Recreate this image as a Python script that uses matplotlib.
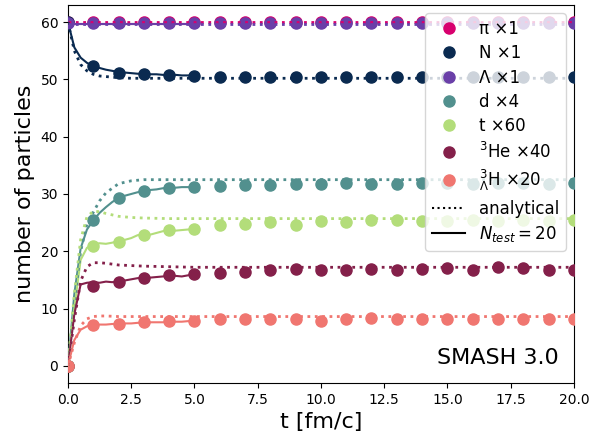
import matplotlib
matplotlib.use("Agg")
import matplotlib.pyplot as plt
from matplotlib.lines import Line2D
import numpy as np

# species, scale factors, colours
names = ["π ×1", "N ×1", "Λ ×1", "d ×4", "t ×60", "$^3$He ×40", "$^3_\\Lambda$H ×20"]
colors = ["#d8006e", "#0a2a50", "#6a3fa8", "#52908e", "#b3dd7a", "#84204a", "#f07670"]

# SMASH points, t = 0..20
t_pts = np.arange(0, 21)
pts_pi = [60.0] * 21
pts_N = [60.0, 52.3, 51.2, 51.0, 50.8, 50.6, 50.5, 50.5, 50.5, 50.5, 50.5,
         50.5, 50.5, 50.5, 50.5, 50.5, 50.5, 50.5, 50.5, 50.5, 50.5]
pts_L = [59.8] * 21
pts_d = [0.0, 25.4, 29.3, 30.5, 31.0, 31.2, 31.4, 31.5, 31.6, 31.7, 31.7,
         31.9, 31.8, 31.8, 31.9, 31.9, 31.8, 31.9, 31.9, 31.8, 31.9]
pts_t = [0.0, 21.0, 21.7, 22.8, 23.7, 23.9, 24.5, 24.8, 25.1, 24.6, 25.2,
         25.1, 25.5, 25.4, 25.2, 25.3, 25.4, 25.3, 25.5, 25.3, 25.4]
pts_he = [0.0, 13.9, 14.7, 15.4, 15.8, 16.0, 16.2, 16.4, 16.8, 16.9, 16.8,
          16.8, 16.9, 16.8, 16.9, 17.0, 16.7, 17.3, 17.1, 16.7, 16.8]
pts_hl = [0.0, 7.2, 7.3, 7.6, 7.9, 7.9, 8.2, 8.2, 8.2, 8.2, 7.9,
          8.2, 8.3, 8.1, 8.2, 8.2, 8.2, 8.2, 8.2, 8.2, 8.2]

# N_test = 20 curves, t = 0..5
t_sim = [0, 0.25, 0.5, 0.75, 1.0, 1.25, 1.5, 1.75, 2.0, 2.25, 2.5, 2.75,
         3.0, 3.25, 3.5, 3.75, 4.0, 4.25, 4.5, 4.75, 5.0]
sim_pi = [59.7] * 21
sim_N = [60.0, 55.6, 53.8, 52.9, 52.3, 52.0, 51.7, 51.5, 51.3, 51.2, 51.1, 51.0,
         51.0, 50.9, 50.9, 50.8, 50.7, 50.8, 50.7, 50.7, 50.7]
sim_L = [59.7] * 21
sim_d = [0.0, 12.5, 20.5, 23.8, 25.4, 26.7, 27.7, 28.6, 29.3, 29.7, 30.0, 30.3,
         30.5, 30.7, 30.8, 31.0, 31.1, 31.1, 31.2, 31.2, 31.2]
sim_t = [0.0, 10.0, 18.5, 20.6, 21.2, 21.4, 21.3, 21.5, 21.8, 22.0, 22.3, 22.8,
         23.0, 22.9, 23.2, 23.5, 23.7, 23.6, 23.7, 23.8, 23.9]
sim_he = [0.0, 9.0, 14.2, 14.5, 14.6, 14.5, 14.7, 14.6, 14.8, 14.9, 15.1, 15.3,
          15.4, 15.4, 15.5, 15.6, 15.7, 15.7, 15.6, 15.8, 16.0]
sim_hl = [0.0, 4.5, 6.3, 6.9, 7.2, 7.2, 7.2, 7.3, 7.3, 7.4, 7.4, 7.5,
          7.5, 7.6, 7.6, 7.6, 7.7, 7.7, 7.7, 7.8, 7.8]

# analytical curves
t_an = [0, 0.25, 0.5, 0.75, 1.0, 1.25, 1.5, 2.0, 2.5, 3.0, 4.0, 5.0, 7.0, 10.0, 15.0, 20.0]
an_pi = [60.0] * 16
an_N = [60.0, 55.0, 52.6, 51.5, 50.9, 50.6, 50.5, 50.3, 50.2, 50.2, 50.2, 50.2, 50.2, 50.2, 50.2, 50.2]
an_L = [59.7] * 16
an_d = [0.0, 11.0, 20.0, 24.8, 26.8, 28.8, 30.2, 31.8, 32.3, 32.5, 32.5, 32.5, 32.5, 32.5, 32.5, 32.5]
an_t = [0.0, 12.5, 22.0, 26.0, 27.0, 26.9, 26.6, 26.1, 25.9, 25.8, 25.7, 25.7, 25.7, 25.7, 25.7, 25.7]
an_he = [0.0, 8.0, 14.8, 17.3, 18.0, 18.0, 17.9, 17.6, 17.5, 17.4, 17.3, 17.2, 17.2, 17.2, 17.2, 17.2]
an_hl = [0.0, 4.0, 7.0, 8.2, 8.6, 8.7, 8.7, 8.6, 8.6, 8.6, 8.6, 8.6, 8.6, 8.6, 8.6, 8.6]

points = [pts_pi, pts_N, pts_L, pts_d, pts_t, pts_he, pts_hl]
sims = [sim_pi, sim_N, sim_L, sim_d, sim_t, sim_he, sim_hl]
analytic = [an_pi, an_N, an_L, an_d, an_t, an_he, an_hl]

fig = plt.figure(figsize=(5.99, 4.33), dpi=100)
ax = fig.add_axes([0.1135, 0.1155, 0.8445, 0.873])

handles = []
for name, c, p, s in zip(names, colors, points, sims):
    ax.plot(t_pts, p, 'o', color=c, ms=8, zorder=3)
    ax.plot(t_sim, s, '-', color=c, lw=1.5, zorder=3)
    handles.append(Line2D([], [], marker='o', ls='none', color=c, ms=8, label=name))

for c, a in zip(colors, analytic):
    ax.plot(t_an, a, ':', color=c, lw=2, zorder=4)

handles.append(Line2D([], [], ls=':', color='k', lw=1.5, label='analytical'))
handles.append(Line2D([], [], ls='-', color='k', lw=1.5, label='$N_{test} = 20$'))
ax.legend(handles=handles, loc='upper right', fontsize=12, handlelength=2.0,
          labelspacing=0.38)

ax.set_xlim(0, 20)
ax.set_xlabel('t [fm/c]', fontsize=16)
ax.set_ylabel('number of particles', fontsize=16)
ax.tick_params(labelsize=10)
ax.text(0.97, 0.04, 'SMASH 3.0', transform=ax.transAxes, ha='right', va='bottom', fontsize=16)

fig.savefig('out.png', dpi=100)
